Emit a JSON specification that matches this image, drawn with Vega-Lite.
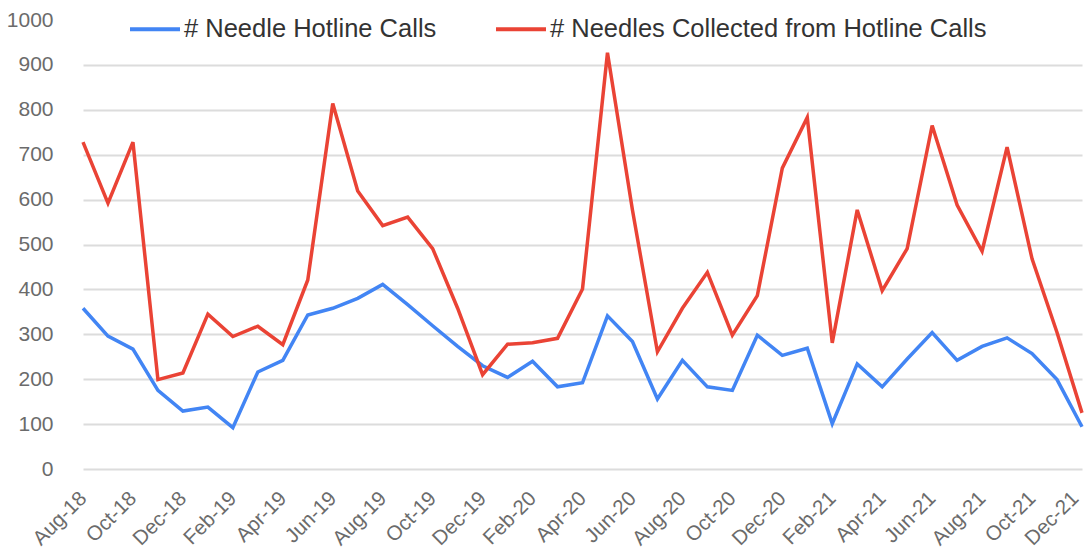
{
  "$schema": "https://vega.github.io/schema/vega-lite/v6.json",
  "autosize": "none",
  "padding": {"left": 73, "top": 20, "right": 0, "bottom": 79},
  "width": 1011,
  "height": 449,
  "background": "white",
  "config": {
    "font": "Liberation Sans",
    "view": {"stroke": null}
  },
  "data": {
    "values": [
      {"month": "Aug-18", "calls": 358, "needles": 728},
      {"month": "Sep-18", "calls": 296, "needles": 592},
      {"month": "Oct-18", "calls": 267, "needles": 728},
      {"month": "Nov-18", "calls": 175, "needles": 199},
      {"month": "Dec-18", "calls": 129, "needles": 214},
      {"month": "Jan-19", "calls": 138, "needles": 345},
      {"month": "Feb-19", "calls": 92, "needles": 295},
      {"month": "Mar-19", "calls": 216, "needles": 318},
      {"month": "Apr-19", "calls": 242, "needles": 277},
      {"month": "May-19", "calls": 343, "needles": 421},
      {"month": "Jun-19", "calls": 358, "needles": 814},
      {"month": "Jul-19", "calls": 380, "needles": 619},
      {"month": "Aug-19", "calls": 411, "needles": 542},
      {"month": "Sep-19", "calls": 366, "needles": 561},
      {"month": "Oct-19", "calls": 319, "needles": 491},
      {"month": "Nov-19", "calls": 273, "needles": 358},
      {"month": "Dec-19", "calls": 230, "needles": 210},
      {"month": "Jan-20", "calls": 204, "needles": 278},
      {"month": "Feb-20", "calls": 240, "needles": 281},
      {"month": "Mar-20", "calls": 183, "needles": 291},
      {"month": "Apr-20", "calls": 192, "needles": 401},
      {"month": "May-20", "calls": 341, "needles": 927},
      {"month": "Jun-20", "calls": 284, "needles": 577},
      {"month": "Jul-20", "calls": 156, "needles": 261},
      {"month": "Aug-20", "calls": 242, "needles": 358},
      {"month": "Sep-20", "calls": 183, "needles": 438},
      {"month": "Oct-20", "calls": 175, "needles": 298},
      {"month": "Nov-20", "calls": 298, "needles": 386},
      {"month": "Dec-20", "calls": 253, "needles": 670},
      {"month": "Jan-21", "calls": 269, "needles": 783},
      {"month": "Feb-21", "calls": 101, "needles": 281},
      {"month": "Mar-21", "calls": 234, "needles": 577},
      {"month": "Apr-21", "calls": 183, "needles": 397},
      {"month": "May-21", "calls": 245, "needles": 491},
      {"month": "Jun-21", "calls": 304, "needles": 765},
      {"month": "Jul-21", "calls": 242, "needles": 588},
      {"month": "Aug-21", "calls": 273, "needles": 485},
      {"month": "Sep-21", "calls": 292, "needles": 717},
      {"month": "Oct-21", "calls": 257, "needles": 468},
      {"month": "Nov-21", "calls": 199, "needles": 304},
      {"month": "Dec-21", "calls": 94, "needles": 125}
    ]
  },
  "transform": [
    {"fold": ["calls", "needles"], "as": ["series", "value"]}
  ],
  "mark": {"type": "line", "strokeWidth": 3.5, "strokeJoin": "miter"},
  "encoding": {
    "x": {
      "field": "month",
      "type": "ordinal",
      "sort": null,
      "scale": {"type": "point", "padding": 0, "range": [10, 1009]},
      "axis": {
        "title": null,
        "values": ["Aug-18", "Oct-18", "Dec-18", "Feb-19", "Apr-19", "Jun-19", "Aug-19", "Oct-19", "Dec-19", "Feb-20", "Apr-20", "Jun-20", "Aug-20", "Oct-20", "Dec-20", "Feb-21", "Apr-21", "Jun-21", "Aug-21", "Oct-21", "Dec-21"],
        "labelAngle": -45,
        "labelAlign": "right",
        "labelBaseline": "middle",
        "labelPadding": 26,
        "labelOffset": {"condition": {"test": "datum.value == 'Dec-21'", "value": -7}, "value": 0},
        "labelFontSize": 20.5,
        "labelColor": "#6b6b6b",
        "ticks": false,
        "domain": false,
        "grid": false
      }
    },
    "y": {
      "field": "value",
      "type": "quantitative",
      "scale": {"domain": [0, 1000], "nice": false},
      "axis": {
        "title": null,
        "values": [0, 100, 200, 300, 400, 500, 600, 700, 800, 900, 1000],
        "format": "d",
        "labelFontSize": 21,
        "labelColor": "#6b6b6b",
        "labelPadding": 20,
        "ticks": false,
        "domain": false,
        "grid": true,
        "gridColor": "#dcdcdc",
        "gridWidth": 2,
        "gridOpacity": {"condition": {"test": "datum.value == 1000", "value": 0}, "value": 1}
      }
    },
    "color": {
      "field": "series",
      "type": "nominal",
      "scale": {"domain": ["calls", "needles"], "range": ["#4285F4", "#EA4335"]},
      "legend": {
        "title": null,
        "orient": "none",
        "direction": "horizontal",
        "legendX": 55,
        "legendY": -18,
        "symbolType": "stroke",
        "symbolSize": 2500,
        "symbolStrokeWidth": 4,
        "labelFontSize": 25.5,
        "labelColor": "#333333",
        "labelOffset": 2,
        "columnPadding": 51,
        "labelLimit": 600,
        "labelExpr": "datum.label == 'calls' ? '# Needle Hotline Calls' : '# Needles Collected from Hotline Calls'"
      }
    }
  }
}
